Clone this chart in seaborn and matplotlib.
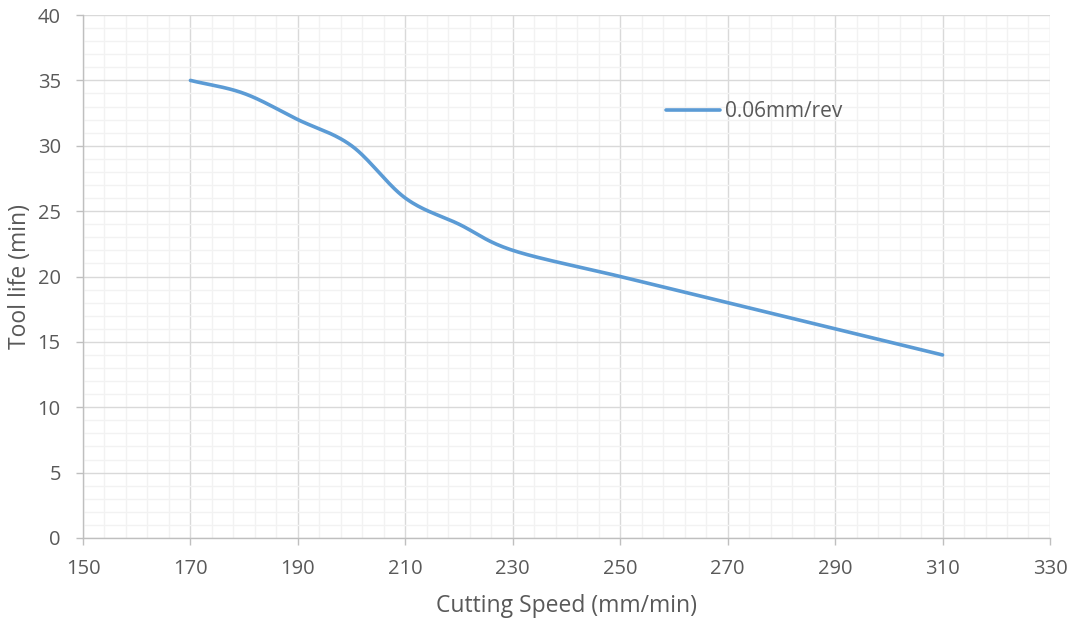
import numpy as np
import pandas as pd
import matplotlib
matplotlib.use("Agg")
import matplotlib.pyplot as plt
from matplotlib.ticker import FixedLocator
import seaborn as sns

# Tool life measurements at a feed of 0.06 mm/rev
cutting_speed = [170, 180, 190, 200, 210, 220, 230, 250, 270, 290, 310]
tool_life = [35, 34, 32, 30, 26, 24, 22, 20, 18, 16, 14]
series_name = "0.06mm/rev"
x_ticks = [150, 170, 190, 210, 230, 250, 270, 290, 310, 330]
y_ticks = [0, 5, 10, 15, 20, 25, 30, 35, 40]


def smooth_curve(x, y, n=30):
    """Catmull-Rom spline through the measured points (spreadsheet-style smoothing)."""
    x = np.asarray(x, float)
    y = np.asarray(y, float)
    px = np.concatenate([[2 * x[0] - x[1]], x, [2 * x[-1] - x[-2]]])
    py = np.concatenate([[2 * y[0] - y[1]], y, [2 * y[-1] - y[-2]]])
    xs, ys = [], []
    t = np.linspace(0, 1, n, endpoint=False)
    for i in range(1, len(px) - 2):
        for p, out in ((px, xs), (py, ys)):
            p0, p1, p2, p3 = p[i - 1], p[i], p[i + 1], p[i + 2]
            out.extend(0.5 * ((2 * p1) + (-p0 + p2) * t
                              + (2 * p0 - 5 * p1 + 4 * p2 - p3) * t ** 2
                              + (-p0 + 3 * p1 - 3 * p2 + p3) * t ** 3))
    xs.append(x[-1])
    ys.append(y[-1])
    return np.array(xs), np.array(ys)


sx, sy = smooth_curve(cutting_speed, tool_life)
df = pd.DataFrame({"speed": sx, "life": sy, "series": series_name})

sns.set_theme(style="white")
plt.rcParams["font.family"] = ["Open Sans", "DejaVu Sans"]

text_color = "#595959"
fig = plt.figure(figsize=(10.78, 6.27), dpi=100)
ax = fig.add_axes([0.077, 0.142, 0.897, 0.834])

sns.lineplot(data=df, x="speed", y="life", hue="series", palette=["#5B9BD5"],
             linewidth=2.6, ax=ax, sort=False, estimator=None)

ax.set_xlim(x_ticks[0], x_ticks[-1])
ax.set_ylim(y_ticks[0], y_ticks[-1])
ax.xaxis.set_major_locator(FixedLocator(x_ticks))
ax.xaxis.set_minor_locator(FixedLocator(np.arange(x_ticks[0], x_ticks[-1] + 1, 4)))
ax.yaxis.set_major_locator(FixedLocator(y_ticks))
ax.yaxis.set_minor_locator(FixedLocator(np.arange(y_ticks[0], y_ticks[-1] + 1, 1)))

ax.grid(which="major", color="#D9D9D9", linewidth=1.0)
ax.grid(which="minor", color="#F2F2F2", linewidth=1.0)
ax.set_axisbelow(True)

for side in ("top", "right"):
    ax.spines[side].set_visible(False)
for side in ("left", "bottom"):
    ax.spines[side].set_color("#BFBFBF")
    ax.spines[side].set_linewidth(1.0)

ax.tick_params(axis="both", which="major", direction="out", length=5,
               width=1.0, color="#BFBFBF", labelsize=14.5, labelcolor=text_color,
               bottom=True, left=True)
ax.tick_params(axis="both", which="minor", length=0)
ax.tick_params(axis="x", pad=10)
ax.tick_params(axis="y", pad=11)

ax.set_xlabel("Cutting Speed (mm/min)", fontsize=16.5, color=text_color, labelpad=11)
ax.set_ylabel("Tool life (min)", fontsize=16.5, color=text_color, labelpad=4)

leg = ax.legend(loc="center left", bbox_to_anchor=(0.603, 0.815), frameon=False,
                fontsize=15, handlelength=2.6, handletextpad=0.25,
                borderaxespad=0.0, borderpad=0.0)
for txt in leg.get_texts():
    txt.set_color(text_color)

fig.savefig("out.png", dpi=100)
